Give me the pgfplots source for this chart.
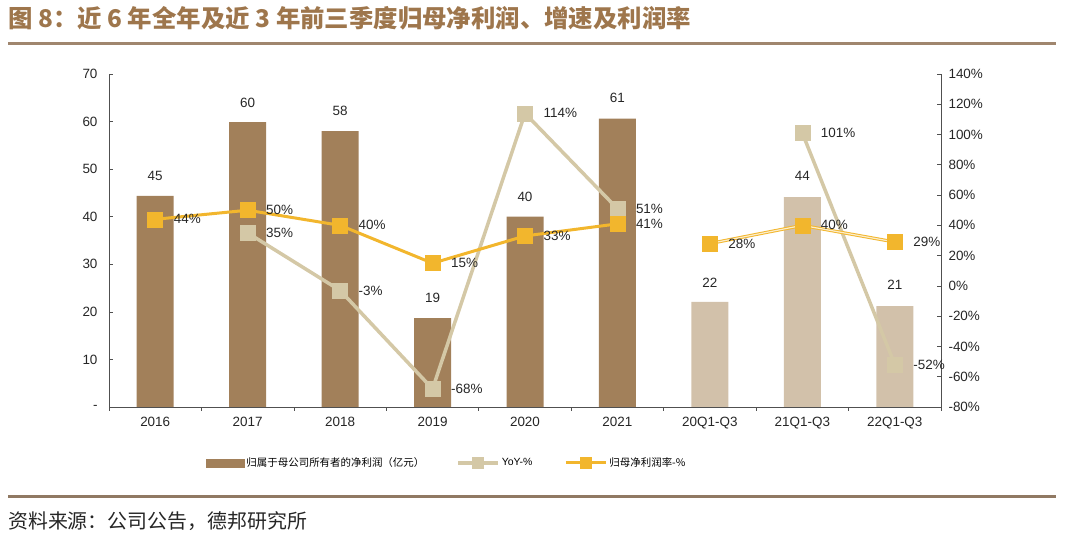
\documentclass[border=0pt]{standalone}
\usepackage{pgfplots}
\pgfplotsset{compat=1.18}
\usepackage{pgfplotstable}
\usepackage{fontspec}
\setmainfont{Liberation Sans}
\newfontfamily\cjk{Noto Sans CJK SC}
\definecolor{darkbar}{RGB}{162,128,90}
\definecolor{lightbar}{RGB}{210,193,170}
\definecolor{yoyc}{RGB}{212,200,166}
\definecolor{goldc}{RGB}{242,182,45}
\definecolor{titlec}{RGB}{158,118,76}
\definecolor{rulec}{RGB}{160,134,110}
\definecolor{axc}{RGB}{80,80,80}

\pgfplotstableread{
x v lab dy
0 44.4 45 20
1 59.9 60 19
2 58.0 58 20
3 18.7 19 20
4 40.0 40 20
5 60.6 61 21
}\fullyear
\pgfplotstableread{
x v lab dy
6 22.1 22 19
7 44.1 44 21
8 21.2 21 21
}\partyear
\pgfplotstableread{
x v
1 35
2 -3
3 -68
4 114
5 51
}\yoyA
\pgfplotstableread{
x v
7 101
8 -52
}\yoyB
\pgfplotstableread{
x v
0 44
1 50
2 40
3 15
4 33
5 41
}\marA
\pgfplotstableread{
x v
6 28
7 40
8 29
}\marB

\pgfplotsset{
  /pgf/number format/assume math mode=true,
  base/.style={
    scale only axis, width=832bp, height=333bp,
    at={(109bp,130bp)}, anchor=south west,
    xmin=-0.5, xmax=8.5, clip=false,
    axis line style={axc, line width=0.7bp},
    tick style={axc, line width=0.7bp},
    major tick length=4bp,
    tick label style={font=\fontsize{13.5}{16}\selectfont, text=black!85},
  },
}

\begin{document}
\begin{tikzpicture}
\useasboundingbox (0,0) rectangle (1080bp,537bp);
% title and rules
\node[anchor=west, inner sep=0pt, text=titlec, font=\cjk\bfseries\fontsize{24.5}{28}\selectfont] at (8bp,519bp) {图 8：近 6 年全年及近 3 年前三季度归母净利润、增速及利润率};
\draw[rulec, line width=3bp] (8bp,493bp) -- (1056bp,493bp);
\draw[rulec!90!black, line width=3bp] (8bp,40bp) -- (1056bp,40bp);
\node[anchor=west, inner sep=0pt, text=black!85, font=\cjk\fontsize{20}{24}\selectfont] at (8bp,16bp) {资料来源：公司公告，德邦研究所};

% bars, left axis
\begin{axis}[base,
  axis y line*=left, axis x line*=bottom,
  ymin=0, ymax=70,
  ytick={0,10,...,70}, yticklabels={-,10,20,30,40,50,60,70},
  yticklabel style={xshift=-8bp},
  xtick={0,...,8},
  xticklabels={2016,2017,2018,2019,2020,2021,20Q1-Q3,21Q1-Q3,22Q1-Q3},
  xticklabel style={yshift=-3bp},
  major x tick style={draw=none},
  minor xtick={-0.5,0.5,...,8.5},
  minor tick length=4bp,
  minor x tick style={draw=axc, line width=0.7bp},
  ybar, bar width=37bp,
  point meta=explicit,
  visualization depends on={\thisrow{dy} \as \dy},
  nodes near coords,
  nodes near coords style={anchor=center, yshift=\dy, font=\fontsize{13.5}{16}\selectfont, text=black!85},
]
\addplot[bar shift=0pt, fill=darkbar, draw=none] table[x=x, y=v, meta=lab] {\fullyear};
\addplot[bar shift=0pt, fill=lightbar, draw=none] table[x=x, y=v, meta=lab] {\partyear};
\end{axis}

% lines, right axis
\begin{axis}[base,
  axis y line*=right, axis x line=none,
  ymin=-80, ymax=140,
  ytick={-80,-60,...,140},
  yticklabel={\pgfmathprintnumber{\tick}\%},
  yticklabel style={xshift=4bp},
  point meta=y,
  legend columns=3,
  legend style={at={(0.406,-0.168)}, anchor=center, draw=none, fill=none,
    font=\fontsize{10.5}{12}\selectfont,
    /tikz/every even column/.append style={column sep=30bp},
    nodes={inner sep=2bp}},
  legend image code/.code={\draw[mark repeat=2, mark phase=2, #1, mark options={scale=0.55}] plot coordinates {(0bp,0bp)(20bp,0bp)(40bp,0bp)};},
  lbl/.style={nodes near coords={\pgfmathprintnumber{\pgfplotspointmeta}\%},
    nodes near coords style={anchor=west, xshift=15bp, font=\fontsize{13.5}{16}\selectfont, text=black!85}},
]
\addlegendimage{legend image code/.code={\fill[darkbar] (0bp,-4bp) rectangle (38bp,4bp);}}
\addlegendentry{\cjk 归属于母公司所有者的净利润（亿元）}
\addplot[yoyc, line width=3.5bp, mark=square*, mark size=7.5bp, mark options={fill=yoyc, draw=yoyc, line width=0.5bp}, lbl] table[x=x, y=v] {\yoyA};
\addlegendentry{YoY-\%}
\addplot[goldc, line width=3bp, mark=square*, mark size=7.5bp, mark options={fill=goldc, draw=goldc, line width=0.5bp}, lbl] table[x=x, y=v] {\marA};
\addlegendentry{\cjk 归母净利润率-\%}
\addplot[forget plot, yoyc, line width=3.5bp, mark=square*, mark size=7.5bp, mark options={fill=yoyc, draw=yoyc, line width=0.5bp}, lbl] table[x=x, y=v] {\yoyB};
\addplot[forget plot, goldc, line width=1bp, double=goldc!25!white, double distance=1.2bp] table[x=x, y=v] {\marB};
\addplot[forget plot, only marks, mark=square*, mark size=7.5bp, mark options={fill=goldc, draw=goldc, line width=0.5bp}, lbl] table[x=x, y=v] {\marB};
\end{axis}
\end{tikzpicture}
\end{document}
